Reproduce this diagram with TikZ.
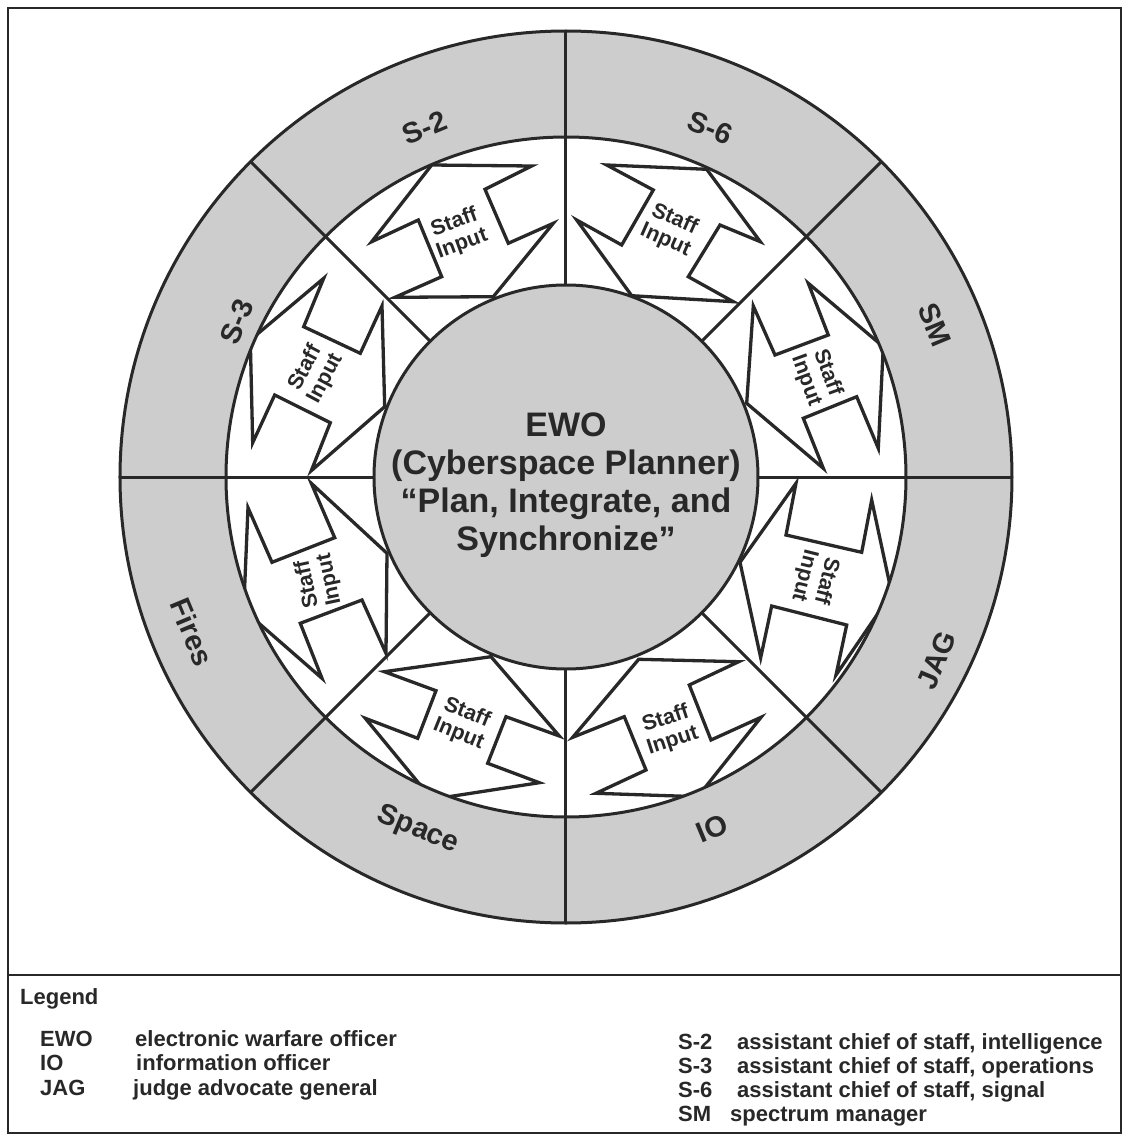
\documentclass[tikz,border=0pt]{standalone}
\usepackage{fontspec}
\setmainfont{Liberation Sans}
\definecolor{ringgray}{RGB}{205,205,205}
\definecolor{ink}{RGB}{40,40,40}
\begin{document}
\begin{tikzpicture}[x=1pt,y=1pt,
  lw/.style={draw=ink,line width=3pt},
  arrowshape/.style={draw=ink,line width=3.3pt,line join=miter,fill=white},
  ringlabel/.style={font=\fontsize{29}{29}\selectfont\bfseries,text=ink,inner sep=0pt},
  stafftext/.style={font=\fontsize{21.5}{22.5}\selectfont\bfseries,align=center,text=ink,inner sep=0pt},
  legtext/.style={font=\fontsize{22}{22}\selectfont\bfseries,text=ink,anchor=base west,inner sep=0pt}]
\useasboundingbox (-566,-659) rectangle (559,477);
\fill[white] (-566,-659) rectangle (559,477);
% frame
\draw[ink,line width=2pt] (-558,469) rectangle (555,-656);
\draw[ink,line width=2pt] (-558,-498) -- (555,-498);
% arrows
\draw[arrowshape] (40.7,312) -- (140.7,307.7) -- (194.3,235.3) -- (154,252) -- (122.3,200.3) -- (167.3,175.3) -- (65.7,181.3) -- (10.7,257) -- (55.7,232) -- (87.3,287) -- cycle;
\draw[arrowshape] (-134.3,312) -- (-34.3,311) -- (-81,287.7) -- (-57.7,233.7) -- (-12.7,253.7) -- (-72.7,180.3) -- (-171,179.7) -- (-124.3,200.3) -- (-147.7,257) -- (-194.3,235.3) -- cycle;
\draw[arrowshape] (242.3,193.7) -- (317.3,130.3) -- (312.3,28.7) -- (290.7,80.3) -- (237.3,58.7) -- (257.3,8.7) -- (180.7,73.7) -- (187.3,171) -- (209,122) -- (262.3,142) -- cycle;
\draw[arrowshape] (230,-6.3) -- (220,-58) -- (295.7,-75.3) -- (305.7,-23) -- (325.7,-116.3) -- (270,-198) -- (280.7,-148) -- (205.7,-129) -- (194.7,-180.7) -- (174,-85.3) -- cycle;
\draw[arrowshape] (72.7,-182.3) -- (172.7,-184.7) -- (123.3,-208) -- (145,-263) -- (195,-240.3) -- (131.7,-319.7) -- (30,-316.3) -- (80,-293) -- (58.3,-239.7) -- (6.7,-260.3) -- cycle;
\draw[arrowshape] (-181.7,-194.7) -- (-75,-179.7) -- (-6.7,-259) -- (-60,-239.7) -- (-78.3,-286.3) -- (-26.7,-305.7) -- (-134,-322.3) -- (-200.7,-241.3) -- (-148.3,-261.3) -- (-130,-213.7) -- cycle;
\draw[arrowshape] (-254.7,-6.3) -- (-231.3,-60.7) -- (-294,-85.3) -- (-318,-30.7) -- (-322.3,-133) -- (-244,-201.3) -- (-265.7,-146.3) -- (-204,-123) -- (-180,-176.3) -- (-179,-76.3) -- cycle;
\draw[arrowshape] (-242.3,198.7) -- (-262.3,150.3) -- (-205.7,123.7) -- (-184,171) -- (-181.3,70.3) -- (-254.7,6.3) -- (-235.7,54.3) -- (-291.3,82) -- (-313.3,34.3) -- (-315.7,137) -- cycle;
% rings
\fill[ringgray,even odd rule] (0,0) circle (446) (0,0) circle (340);
\fill[ringgray] (0,0) circle (192);
\draw[lw] (0,0) circle (446);
\draw[lw] (0,0) circle (340);
\draw[lw] (0,0) circle (192);
\foreach \a in {0,45,...,315} \draw[lw] (\a:192) -- (\a:446);
% ring labels
\node[ringlabel,rotate=22.5]  (s2)    at (-141,349)  {S-2};
\node[ringlabel,rotate=-22.5] (s6)    at (144,349)   {S-6};
\node[ringlabel,rotate=-67.5] (sm)    at (369,152)   {SM};
\node[ringlabel,rotate=67.5]  (jag)   at (371,-183)  {JAG};
\node[ringlabel,rotate=22.5]  (io)    at (146,-351)  {IO};
\node[ringlabel,rotate=-22.5] (space) at (-148,-353)  {Space};
\node[ringlabel,rotate=-67.5] (fires) at (-374,-155)  {Fires};
\node[ringlabel,rotate=67.5]  (s3)    at (-329,155)  {S-3};
% staff input texts
\node[stafftext,rotate=-24] (t6) at (104,247) {Staff\\Input};
\node[stafftext,rotate=20]  (t2) at (-107.7,243.7) {Staff\\Input};
\node[stafftext,rotate=-70] (tsm) at (250.7,100.3) {Staff\\Input};
\node[stafftext,rotate=-104] (tjag) at (249,-101.3) {Staff\\Input};
\node[stafftext,rotate=18] (tio) at (103.3,-253) {Staff\\Input};
\node[stafftext,rotate=-22] (tsp) at (-103.3,-246.3) {Staff\\Input};
\node[stafftext,rotate=102] (tfi) at (-247.3,-104.7) {Staff\\Input};
\node[stafftext,rotate=62] (ts3) at (-250.7,103.7) {Staff\\Input};
% center
\node[font=\fontsize{34}{38}\selectfont\bfseries,align=center,text=ink,inner sep=0pt] (ewo) at (0,-8)
  {EWO\\(Cyberspace Planner)\\“Plan, Integrate, and\\Synchronize”};
% legend
\node[legtext] (leg) at (-546,-527) {Legend};
\node[legtext] (l1a) at (-526,-569) {EWO};
\node[legtext] (l1b) at (-431,-569) {electronic warfare officer};
\node[legtext] (l2a) at (-526,-593) {IO};
\node[legtext] (l2b) at (-430,-593) {information officer};
\node[legtext] (l3a) at (-526,-618) {JAG};
\node[legtext] (l3b) at (-433,-618) {judge advocate general};
\node[legtext] (r1a) at (112,-572) {S-2};
\node[legtext] (r1b) at (171,-572) {assistant chief of staff, intelligence};
\node[legtext] (r2a) at (112,-596) {S-3};
\node[legtext] (r2b) at (171,-596) {assistant chief of staff, operations};
\node[legtext] (r3a) at (112,-620) {S-6};
\node[legtext] (r3b) at (171,-620) {assistant chief of staff, signal};
\node[legtext] (r4a) at (112,-644) {SM};
\node[legtext] (r4b) at (164,-644) {spectrum manager};
\end{tikzpicture}
\end{document}
